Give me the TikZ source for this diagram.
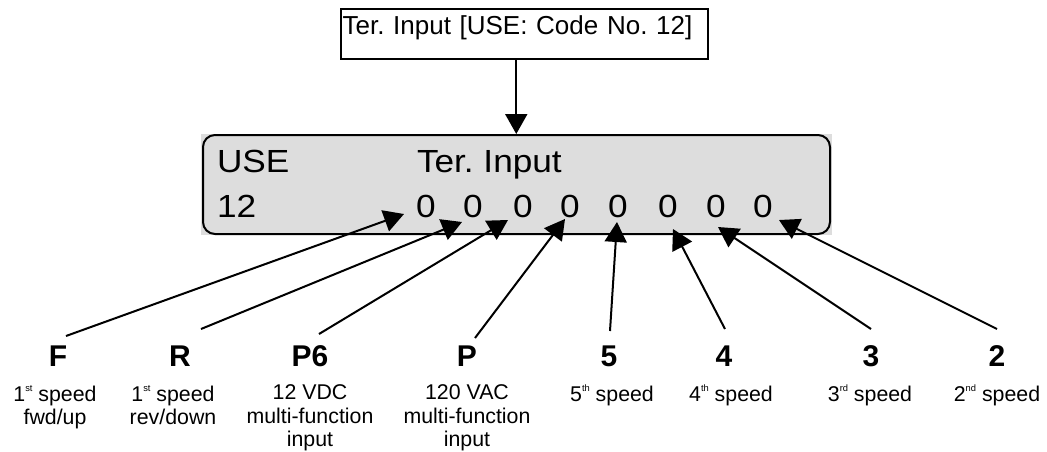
\documentclass[tikz,border=0pt]{standalone}
\usepackage{fontspec}
\setmainfont{Liberation Sans}
\newfontfamily\dispfont[FakeStretch=1.1]{Liberation Sans}
\usetikzlibrary{arrows.meta}
\frenchspacing
\newcommand\supx[1]{\raisebox{7.5pt}{\fontsize{7}{7}\selectfont #1}}
\definecolor{dispgray}{RGB}{221,221,221}
\begin{document}
\frenchspacing
\begin{tikzpicture}[x=0.75pt,y=-0.75pt, line width=1.5pt,
  arr/.style={-{Triangle[length=15pt,width=16.5pt]}, line width=1.5pt},
  boldlbl/.style={font=\fontsize{22.5}{26}\selectfont\bfseries, inner sep=0, anchor=base},
  smalllbl/.style={font=\fontsize{16}{17.5}\selectfont, inner sep=0, anchor=north, align=center},
  disptxt/.style={font=\dispfont\fontsize{24}{28}\selectfont, inner sep=0, anchor=base west},
  zero/.style={font=\dispfont\fontsize{24}{28}\selectfont, inner sep=0, anchor=base}]
\useasboundingbox (0,0) rectangle (1047,451);

% top box
\node (topbox) [draw, anchor=north west, inner xsep=1.2pt, inner ysep=0pt,
  text width=272.5pt, align=left, text height=18.75pt, text depth=18.75pt,
  font=\fontsize{19.5}{22}\selectfont] at (340,8) {Ter. Input [USE: Code No. 12]};

% display
\fill[dispgray] (201,134) rectangle (832,235);
\node (disp) [draw, rounded corners=9pt, anchor=north west, inner sep=0,
  minimum width=470.25pt, minimum height=74.25pt] at (202,134) {};

\draw[arr] ([xshift=-6pt]topbox.south) -- ([xshift=-6pt]topbox.south |- disp.north);

\node (use) [disptxt] at (216,172) {USE};
\node (ter) [disptxt] at (416,172) {Ter. Input};
\node (code) [disptxt] at (216,217) {12};
\node (z1) [zero] at (426,217) {0};
\node (z2) [zero] at (473,217) {0};
\node (z3) [zero] at (523,217) {0};
\node (z4) [zero] at (570,217) {0};
\node (z5) [zero] at (618,217) {0};
\node (z6) [zero] at (668,217) {0};
\node (z7) [zero] at (716,217) {0};
\node (z8) [zero] at (763,217) {0};

% arrow tips
\coordinate (tF) at (404,214);
\coordinate (tR) at (462,222);
\coordinate (tP6) at (508,220);
\coordinate (tP) at (565,219);
\coordinate (t5) at (617,222);
\coordinate (t4) at (673,229);
\coordinate (t3) at (718,227);
\coordinate (t2) at (779,220);

% line ends
\coordinate (sF) at (66,336);
\coordinate (sR) at (201,329);
\coordinate (sP6) at (319,334);
\coordinate (sP) at (475,338);
\coordinate (s5) at (610,331);
\coordinate (s4) at (725,329);
\coordinate (s3) at (871,329);
\coordinate (s2) at (997,329);

% labels
\node (lF) [boldlbl] at (58,366) {F};
\node (lR) [boldlbl] at (180,366) {R};
\node (lP6) [boldlbl] at (310,366) {P6};
\node (lP) [boldlbl] at (467,366) {P};
\node (l5) [boldlbl] at (609,366) {5};
\node (l4) [boldlbl] at (724,366) {4};
\node (l3) [boldlbl] at (871,366) {3};
\node (l2) [boldlbl] at (997,366) {2};

\node (dF) [smalllbl] at (55,384) {1\supx{st} speed\\fwd/up};
\node (dR) [smalllbl] at (173,384) {1\supx{st} speed\\rev/down};
\node (dP6) [smalllbl] at (310,384) {12 VDC\\multi-function\\input};
\node (dP) [smalllbl] at (467,384) {120 VAC\\multi-function\\input};
\node (d5) [smalllbl] at (612,384) {5\supx{th} speed};
\node (d4) [smalllbl] at (731,384) {4\supx{th} speed};
\node (d3) [smalllbl] at (870,384) {3\supx{rd} speed};
\node (d2) [smalllbl] at (997,384) {2\supx{nd} speed};

\foreach \k in {F,R,P6,P,5,4,3,2} {
  \draw[arr] (s\k) -- (t\k);
}
\end{tikzpicture}
\end{document}
